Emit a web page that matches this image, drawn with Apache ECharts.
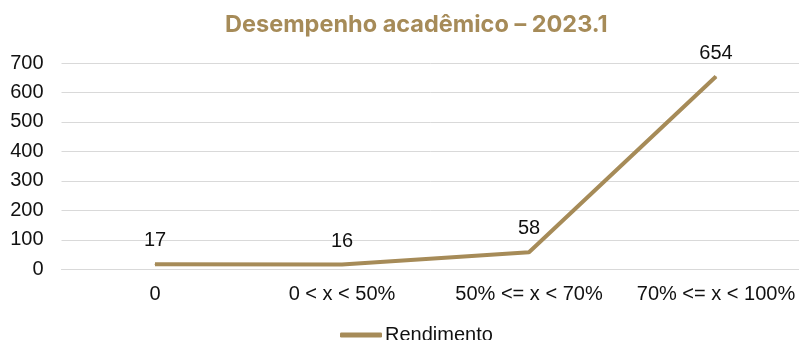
<!DOCTYPE html>
<html>
<head>
<meta charset="utf-8">
<script src="https://cdn.jsdelivr.net/npm/echarts@6/dist/echarts.min.js"></script>
<style>
  html, body { margin: 0; padding: 0; background: #fff; }
  #chart { width: 799px; height: 340px; }
</style>
</head>
<body>
<div id="chart"></div>
<script>
// Faixas de rendimento e número de alunos em cada uma
const categories = ['0', '0 < x < 50%', '50% <= x < 70%', '70% <= x < 100%'];
const rendimento = [17, 16, 58, 654];
const yTicks = { min: 0, max: 700, interval: 100 };

const gold = '#A68B58';
const textColor = '#111';
const font = 'Liberation Sans, Arial, sans-serif';

const chart = echarts.init(document.getElementById('chart'), null, { renderer: 'canvas' });
chart.setOption({
  animation: false,
  backgroundColor: '#fff',
  title: {
    text: 'Desempenho acadêmico – 2023.1',
    left: 220,
    top: 8,
    textStyle: { fontFamily: 'Inter, sans-serif', fontWeight: 700, fontSize: 23.5, color: gold }
  },
  legend: {
    data: ['Rendimento'],
    left: 335,
    top: 320,
    icon: 'roundRect',
    itemWidth: 42,
    itemHeight: 5,
    itemGap: 10,
    textStyle: { fontFamily: font, fontSize: 20, color: textColor, padding: [0, 0, 0, -2] }
  },
  // the plot area runs a little past the right edge of the canvas
  grid: { left: 61.5, top: 63, width: 748, height: 206.3, containLabel: false, outerBoundsMode: 'none' },
  xAxis: {
    type: 'category',
    data: categories,
    boundaryGap: true,
    axisTick: { show: false },
    axisLine: { show: true, lineStyle: { color: '#d9d9d9', width: 1 } },
    axisLabel: { fontFamily: font, fontSize: 20, color: textColor, margin: 15, interval: 0 }
  },
  yAxis: {
    type: 'value',
    min: yTicks.min,
    max: yTicks.max,
    interval: yTicks.interval,
    axisLine: { show: false },
    axisTick: { show: false },
    splitLine: { lineStyle: { color: '#d9d9d9', width: 1 } },
    axisLabel: { fontFamily: font, fontSize: 20, color: textColor, margin: 18 }
  },
  series: [{
    name: 'Rendimento',
    type: 'line',
    data: rendimento,
    symbol: 'circle',
    symbolSize: 1,
    itemStyle: { color: gold },
    lineStyle: { color: gold, width: 4 },
    label: {
      show: true,
      position: 'top',
      distance: 13,
      fontFamily: font,
      fontSize: 20,
      color: textColor
    }
  }]
});
</script>
</body>
</html>
